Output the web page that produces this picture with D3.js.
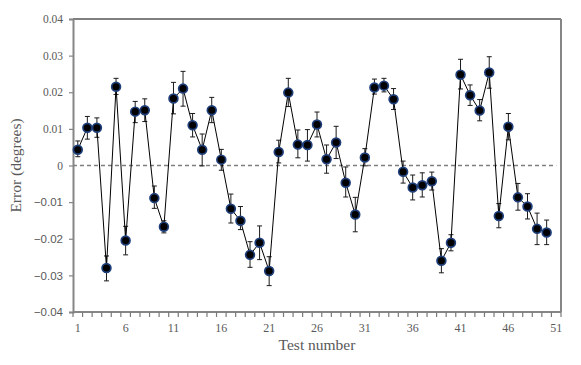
<!DOCTYPE html>
<html>
<head>
<meta charset="utf-8">
<script src="https://cdn.jsdelivr.net/npm/d3@7"></script>
<style>
  body { margin: 0; background: #fff; }
  svg { display: block; }
</style>
</head>
<body>
<svg id="chart" width="581" height="365"></svg>
<script>
// test numbers 1..50
const tests = d3.range(1, 51);

// mean error (degrees) per test
const errors = [
  0.0043, 0.0103, 0.0103, -0.0280, 0.0215, -0.0205, 0.0147, 0.0151, -0.0089, -0.0167,
  0.0183, 0.0210, 0.0110, 0.0043, 0.0151, 0.0016, -0.0118, -0.0151, -0.0244, -0.0211,
  -0.0288, 0.0037, 0.0199, 0.0057, 0.0056, 0.0112, 0.0017, 0.0063, -0.0047, -0.0134,
  0.0022, 0.0213, 0.0218, 0.0181, -0.0017, -0.0060, -0.0054, -0.0043, -0.0260, -0.0211,
  0.0248, 0.0192, 0.0150, 0.0254, -0.0138, 0.0106, -0.0087, -0.0112, -0.0173, -0.0183
];

// error bar ends
const barTop = [
  0.0067, 0.0134, 0.0130, -0.0247, 0.0238, -0.0166, 0.0175, 0.0182, -0.0056, -0.0151,
  0.0227, 0.0257, 0.0142, 0.0086, 0.0186, 0.0044, -0.0078, -0.0112, -0.0208, -0.0165,
  -0.0249, 0.0069, 0.0238, 0.0097, 0.0098, 0.0146, 0.0056, 0.0107, -0.0004, -0.0087,
  0.0046, 0.0236, 0.0238, 0.0210, 0.0012, -0.0026, -0.0020, -0.0018, -0.0227, -0.0189,
  0.0290, 0.0220, 0.0180, 0.0297, -0.0104, 0.0142, -0.0049, -0.0077, -0.0130, -0.0149
];
const barBottom = [
  0.0024, 0.0072, 0.0077, -0.0315, 0.0194, -0.0244, 0.0117, 0.0120, -0.0117, -0.0184,
  0.0141, 0.0162, 0.0078, -0.0001, 0.0117, -0.0013, -0.0157, -0.0175, -0.0278, -0.0257,
  -0.0328, 0.0007, 0.0161, 0.0021, 0.0012, 0.0078, -0.0021, 0.0019, -0.0086, -0.0181,
  -0.0001, 0.0195, 0.0201, 0.0153, -0.0048, -0.0094, -0.0086, -0.0067, -0.0293, -0.0233,
  0.0209, 0.0164, 0.0122, 0.0211, -0.0170, 0.0070, -0.0122, -0.0146, -0.0216, -0.0216
];

const xTickLabels = [1, 6, 11, 16, 21, 26, 31, 36, 41, 46, 51];
const yTicks = [-0.04, -0.03, -0.02, -0.01, 0, 0.01, 0.02, 0.03, 0.04];

const data = tests.map((t, i) => ({ t: t, v: errors[i], hi: barTop[i], lo: barBottom[i] }));

var svg = d3.select("#chart"),
  margin = { top: 19, right: 20, bottom: 53, left: 73 },
  width = +svg.attr("width") - margin.left - margin.right,
  height = +svg.attr("height") - margin.top - margin.bottom;

var x = d3.scaleLinear().domain([0.5, 51.5]).range([0, width]),
  y = d3.scaleLinear().domain([-0.04, 0.04]).range([height, 0]);

var g = svg.append("g")
  .attr("transform", "translate(" + margin.left + "," + margin.top + ")");

const axisGray = "#868686";
const textGray = "#595959";

// frame: top black, right gray
g.append("line").attr("x1", 0).attr("x2", width).attr("y1", 0).attr("y2", 0)
  .attr("stroke", "#000").attr("stroke-width", 1);
g.append("line").attr("x1", width).attr("x2", width).attr("y1", 0).attr("y2", height)
  .attr("stroke", axisGray).attr("stroke-width", 2);

// y axis
var yAxis = g.append("g")
  .call(d3.axisLeft(y).tickValues(yTicks).tickSize(4).tickFormat(d => d === 0 ? "0" : d3.format(".2f")(d)));
yAxis.select(".domain").attr("stroke", axisGray).attr("stroke-width", 2);
yAxis.selectAll(".tick line").attr("stroke", axisGray).attr("stroke-width", 1.2);
yAxis.selectAll(".tick text")
  .attr("x", -10)
  .attr("fill", textGray)
  .style("font-family", d => d < 0 ? "'Liberation Sans', Arial, sans-serif" : "'Liberation Serif', serif")
  .style("font-size", "11.5px");

// x axis: ticks between categories, labels every 5
var xAxisG = g.append("g").attr("transform", "translate(0," + height + ")");
xAxisG.append("line").attr("x1", 0).attr("x2", width)
  .attr("stroke", axisGray).attr("stroke-width", 2);
xAxisG.selectAll(".xtick")
  .data(d3.range(0.5, 52, 1))
  .enter().append("line")
  .attr("class", "xtick")
  .attr("x1", d => x(d)).attr("x2", d => x(d))
  .attr("y1", 0).attr("y2", 5)
  .attr("stroke", "#7a7a7a").attr("stroke-width", 1.2);
xAxisG.selectAll(".xlabel")
  .data(xTickLabels)
  .enter().append("text")
  .attr("class", "xlabel")
  .attr("x", d => x(d))
  .attr("y", 20)
  .attr("text-anchor", "middle")
  .attr("fill", textGray)
  .style("font-family", "'Liberation Serif', serif")
  .style("font-size", "12px")
  .text(d => d);

// zero line
g.append("line")
  .attr("x1", 0).attr("x2", x(51))
  .attr("y1", y(0)).attr("y2", y(0))
  .attr("stroke", "#7f7f7f").attr("stroke-width", 1.5)
  .attr("stroke-dasharray", "4,3");

// axis titles
svg.append("text")
  .attr("x", margin.left + x(26))
  .attr("y", 350)
  .attr("text-anchor", "middle")
  .attr("fill", textGray)
  .style("font-family", "'Liberation Serif', serif")
  .style("font-size", "15.5px")
  .text("Test number");

svg.append("text")
  .attr("transform", "translate(21," + (margin.top + height / 2) + ") rotate(-90)")
  .attr("text-anchor", "middle")
  .attr("fill", textGray)
  .style("font-family", "'Liberation Serif', serif")
  .style("font-size", "15.5px")
  .text("Error (degrees)");

// error bars
var bars = g.selectAll(".err").data(data).enter().append("g").attr("class", "err")
  .attr("stroke", "#1a1a1a").attr("stroke-width", 1);
bars.append("line")
  .attr("x1", d => x(d.t)).attr("x2", d => x(d.t))
  .attr("y1", d => y(d.hi)).attr("y2", d => y(d.lo));
bars.append("line")
  .attr("x1", d => x(d.t) - 2.5).attr("x2", d => x(d.t) + 2.5)
  .attr("y1", d => y(d.hi)).attr("y2", d => y(d.hi));
bars.append("line")
  .attr("x1", d => x(d.t) - 2.5).attr("x2", d => x(d.t) + 2.5)
  .attr("y1", d => y(d.lo)).attr("y2", d => y(d.lo));

// connecting line
g.append("path")
  .datum(data)
  .attr("fill", "none")
  .attr("stroke", "#000")
  .attr("stroke-width", 1)
  .attr("d", d3.line().x(d => x(d.t)).y(d => y(d.v)));

// markers
g.selectAll(".pt")
  .data(data)
  .enter().append("circle")
  .attr("class", "pt")
  .attr("cx", d => x(d.t))
  .attr("cy", d => y(d.v))
  .attr("r", 4.4)
  .attr("fill", "#000")
  .attr("stroke", "#1f3f7a")
  .attr("stroke-width", 1.7)
  .append("title")
  .text(d => "Test " + d.t + ": " + d.v);
</script>
</body>
</html>
